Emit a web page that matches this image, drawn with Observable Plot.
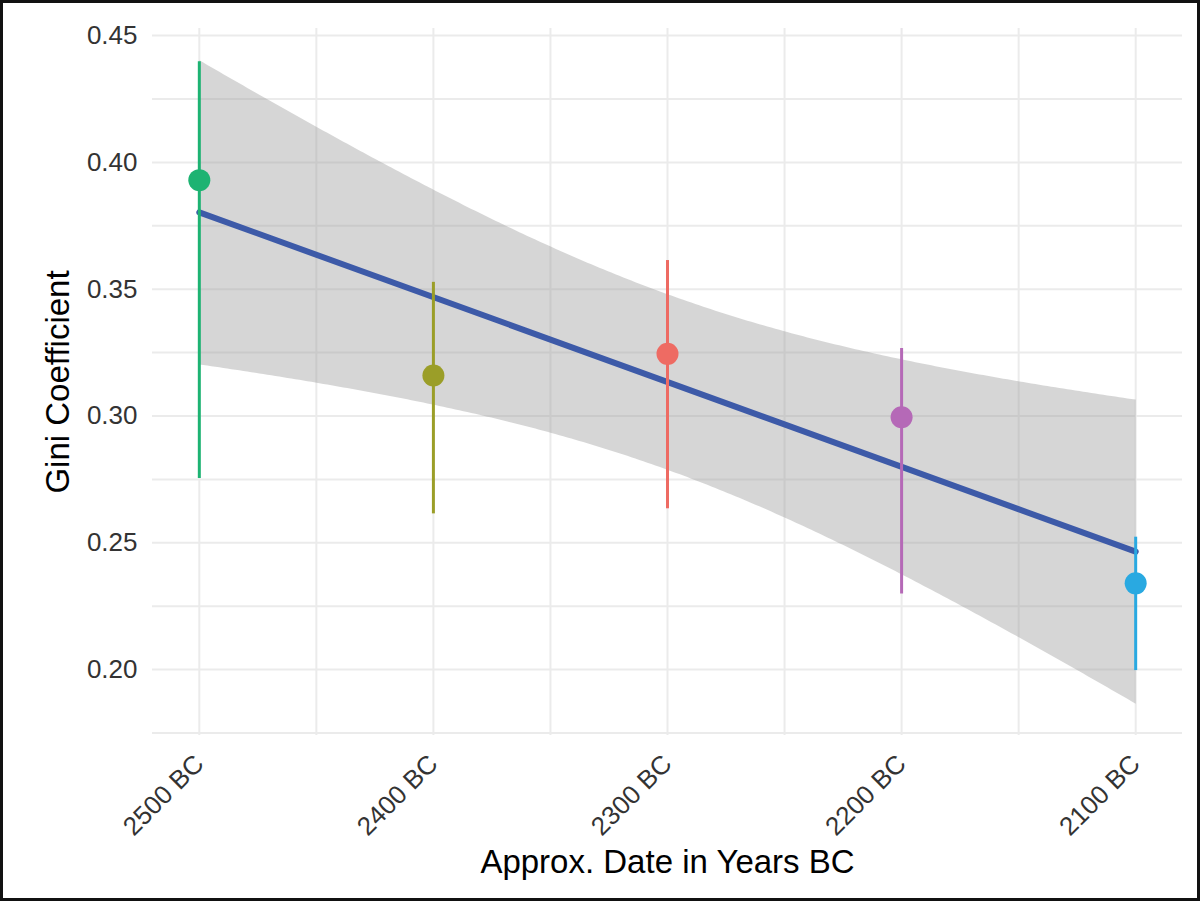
<!DOCTYPE html>
<html>
<head>
<meta charset="utf-8">
<script src="https://cdn.jsdelivr.net/npm/d3@7"></script>
<script src="https://cdn.jsdelivr.net/npm/@observablehq/plot@0.6"></script>
<style>
  html, body { margin: 0; padding: 0; background: #fff; }
  #chart svg { display: block; outline: 3px solid #111; outline-offset: -3px; }
</style>
</head>
<body>
<div id="chart"></div>
<script>
// Data
const years = [2500, 2400, 2300, 2200, 2100];
const gini = [0.393, 0.316, 0.3245, 0.2995, 0.234];
const lower = [0.2753, 0.2614, 0.2634, 0.2298, 0.1996];
const upper = [0.4397, 0.3527, 0.3613, 0.3266, 0.2522];
const pointColors = ["#1DB372", "#9B9E28", "#EE6B63", "#B569B7", "#29A9E1"];

const xTicks = [2500, 2400, 2300, 2200, 2100];
const xGridTicks = [2500, 2450, 2400, 2350, 2300, 2250, 2200, 2150, 2100];
const yTicks = [0.20, 0.25, 0.30, 0.35, 0.40, 0.45];
const yGridTicks = [0.175, 0.20, 0.225, 0.25, 0.275, 0.30, 0.325, 0.35, 0.375, 0.40, 0.425, 0.45];

const xTitle = "Approx. Date in Years BC";
const yTitle = "Gini Coefficient";

const rows = years.map((y, i) => ({year: y, gini: gini[i], lo: lower[i], hi: upper[i]}));

const font = "'Liberation Sans', Arial, Helvetica, sans-serif";

const chart = Plot.plot({
  width: 1200,
  height: 901,
  marginLeft: 152,
  marginRight: 18,
  marginTop: 28,
  marginBottom: 166,
  style: {fontFamily: font, background: "#fff"},
  x: {domain: [2520, 2080], label: null},
  y: {domain: [0.174, 0.4528], label: null},
  color: {type: "ordinal", domain: years, range: pointColors},
  marks: [
    Plot.gridY(yGridTicks, {stroke: "#ebebeb", strokeOpacity: 1, strokeWidth: 2}),
    Plot.gridX(xGridTicks, {stroke: "#ebebeb", strokeOpacity: 1, strokeWidth: 2}),
    Plot.axisY(yTicks, {tickSize: 0, tickPadding: 15, fontSize: 26, fill: "#333", tickFormat: d3.format(".2f"), label: null}),
    Plot.axisX(xTicks, {tickSize: 0, tickPadding: 24, fontSize: 26, fill: "#333", tickRotate: -45, tickFormat: d => `${d} BC`, label: null}),
    Plot.linearRegressionY(rows, {x: "year", y: "gini", ci: 0.95, stroke: "#3D5AA8", strokeWidth: 6, fill: "#999", fillOpacity: 0.4}),
    Plot.ruleX(rows, {x: "year", y1: "lo", y2: "hi", stroke: "year", strokeWidth: 3}),
    Plot.dot(rows, {x: "year", y: "gini", fill: "year", r: 11}),
    Plot.text([yTitle], {frameAnchor: "left", rotate: -90, dx: -94, fontSize: 33, fill: "#000", textAnchor: "middle", lineAnchor: "middle"}),
    Plot.text([xTitle], {frameAnchor: "bottom", dy: 127, fontSize: 33, fill: "#000", textAnchor: "middle", lineAnchor: "middle"})
  ]
});

document.getElementById("chart").appendChild(chart);
</script>
</body>
</html>
